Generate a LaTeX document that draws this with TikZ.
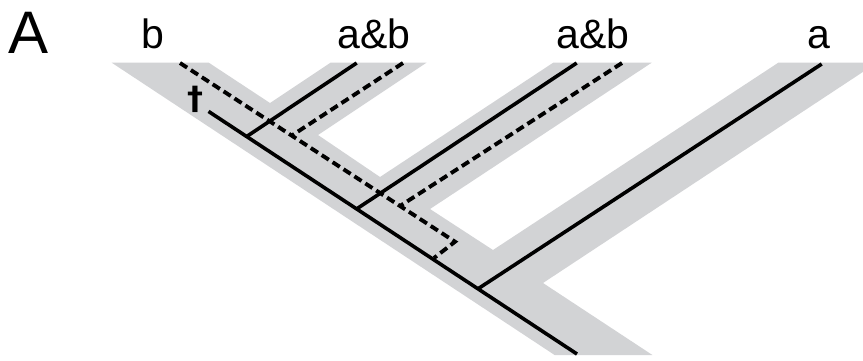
\documentclass[tikz,border=0pt]{standalone}
\usepackage{fontspec}
\setmainfont{Liberation Sans}
\newfontfamily\dagfont{DejaVu Sans}
\definecolor{bandgray}{RGB}{210,211,213}
\tikzset{
  band/.style={fill=bandgray, draw=none},
  gene/.style={line width=3.6pt, draw=black, line cap=butt, line join=miter},
  genedash/.style={line width=3.9pt, draw=black, dash pattern=on 8.5pt off 4.5pt, line cap=butt, line join=miter},
  lab/.style={inner sep=0pt, anchor=base, font=\fontsize{41}{41}\selectfont},
}
\begin{document}
\begin{tikzpicture}[x=1pt,y=-1pt]
\useasboundingbox (0,0) rectangle (863,360);
% species tree (gray bands)
\fill[band] (111.7,62.7) -- (208.8,62.7) -- (270,103) -- (330.5,62.7) -- (426.5,62.7)
  -- (318,135) -- (380,177) -- (553.2,62.7) -- (651.7,62.7) -- (430,209)
  -- (493,250) -- (778.3,62.7) -- (863,62.7) -- (863,71.9) -- (543,283)
  -- (652.4,355) -- (554.6,355) -- cycle;
% coordinates of the solid gene tree
\coordinate (T0) at (208.5,111.4);
\coordinate (J1) at (246.7,136.5);
\coordinate (J2) at (356.7,208.9);
\coordinate (J3) at (478,288.8);
\coordinate (T1) at (577,354);
\coordinate (S1) at (356.7,63);
\coordinate (S2) at (576.7,63);
\coordinate (S3) at (821.7,64);
% coordinates of the dashed gene tree
\coordinate (D0) at (180,63);
\coordinate (DJ1) at (291.7,135.6);
\coordinate (DJ2) at (400,206);
\coordinate (DC) at (455,241.7);
\coordinate (DE) at (434,258);
\coordinate (E1) at (403,63);
\coordinate (E2) at (622,63);
% solid gene tree
\draw[gene] (T0) -- (T1);
\draw[gene] (J1) -- (S1);
\draw[gene] (J2) -- (S2);
\draw[gene] (J3) -- (S3);
% dashed gene tree
\draw[genedash] (D0) -- (DC) -- (DE);
\draw[genedash] (E1) -- (DJ1);
\draw[genedash] (E2) -- (DJ2);
% extinction mark
\node[inner sep=0pt, anchor=center, font=\dagfont\fontsize{32}{32}\bfseries\selectfont] (dag) at (195.7,99.5) {†};
% labels
\node[inner sep=0pt, anchor=base west, font=\fontsize{60}{60}\selectfont] (panel) at (8,53) {A};
\node[lab] (lb) at (153,48.3) {b};
\node[lab] (lab1) at (374,48.3) {a\&b};
\node[lab] (lab2) at (593.3,48.3) {a\&b};
\node[lab] (la) at (819,48.3) {a};
\end{tikzpicture}
\end{document}
